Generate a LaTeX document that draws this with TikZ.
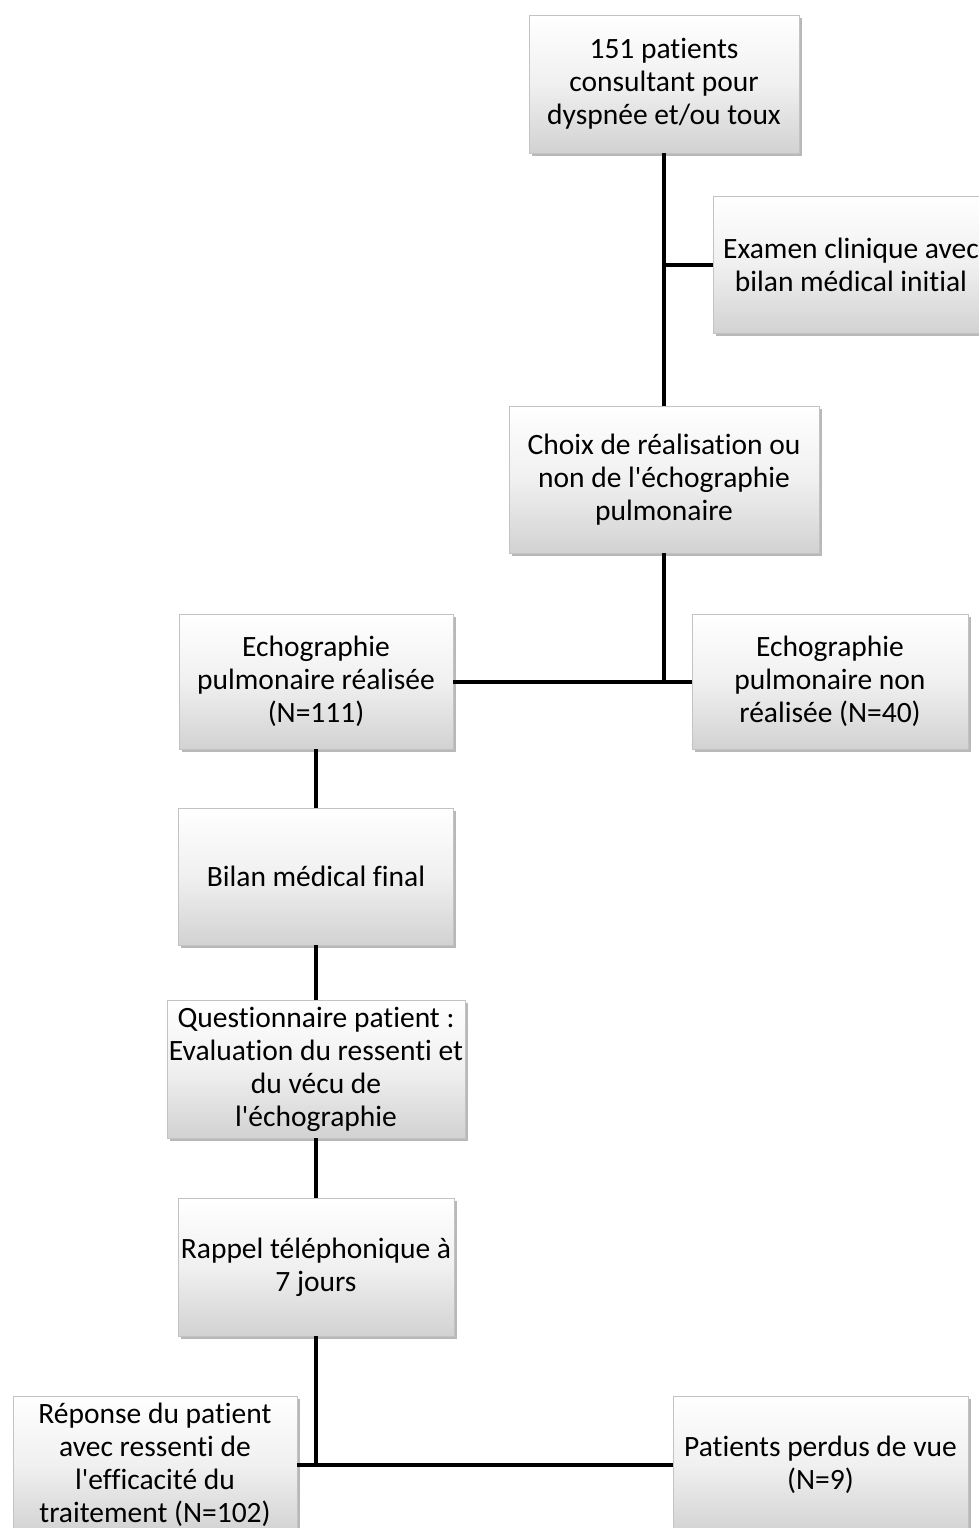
\documentclass[tikz,border=0pt]{standalone}
\usepackage{fontspec}
\newfontfamily\boxfont{Carlito}[Ligatures=NoCommon]
\usetikzlibrary{shadows}
\definecolor{boxbot}{RGB}{210,210,210}
\definecolor{boxmid}{RGB}{240,240,240}
\definecolor{boxedge}{RGB}{195,195,195}
\begin{document}
\begin{tikzpicture}[x=1pt,y=-1pt,
  box/.style={draw=boxedge, line width=0.6pt, top color=white, bottom color=boxbot, middle color=boxmid,
    drop shadow={shadow xshift=2.5pt, shadow yshift=-3pt, fill=black, opacity=0.28},
    inner sep=0pt, align=center, font=\boxfont\fontsize{29.5}{33}\selectfont},
  link/.style={line width=4pt, draw=black}]
\useasboundingbox (0,0) rectangle (979,1528);
\clip (0,0) rectangle (979,1528);
\node[box, minimum width=270pt, minimum height=138pt] (b1) at (664,84) {151 patients\\consultant pour\\dyspnée et/ou toux};
\node[box, minimum width=276pt, minimum height=137pt] (b2) at (851,264.5) {Examen clinique avec\\bilan médical initial};
\node[box, minimum width=310pt, minimum height=147pt] (b3) at (664,479.5) {Choix de réalisation ou\\non de l'échographie\\pulmonaire};
\node[box, minimum width=274pt, minimum height=135pt] (b4) at (316,681.5) {Echographie\\pulmonaire réalisée\\(N=111)};
\node[box, minimum width=276pt, minimum height=135pt] (b5) at (830,681.5) {Echographie\\pulmonaire non\\réalisée (N=40)};
\node[box, minimum width=275pt, minimum height=137pt] (b6) at (316,876.5) {Bilan médical final};
\node[box, minimum width=298pt, minimum height=138pt] (b7) at (316,1069) {Questionnaire patient :\\Evaluation du ressenti et\\du vécu de\\l'échographie};
\node[box, minimum width=276pt, minimum height=138pt] (b8) at (316,1267) {Rappel téléphonique à\\7 jours};
\node[box, minimum width=284pt, minimum height=138pt] (b9) at (155,1465) {Réponse du patient\\avec ressenti de\\l'efficacité du\\traitement (N=102)};
\node[box, minimum width=295pt, minimum height=138pt] (b10) at (820.5,1465) {Patients perdus de vue\\(N=9)};
\draw[link] (b1.south) -- (b3.north);
\draw[link] (b1.south |- b2.west) -- (b2.west);
\draw[link] (b3.south) -- (b3.south |- b4.east);
\draw[link] (b4.east) -- (b5.west);
\draw[link] (b4.south) -- (b6.north);
\draw[link] (b6.south) -- (b7.north);
\draw[link] (b7.south) -- (b8.north);
\draw[link] (b8.south) -- (b8.south |- b9.east);
\draw[link] (b9.east) -- (b10.west);
\end{tikzpicture}
\end{document}
